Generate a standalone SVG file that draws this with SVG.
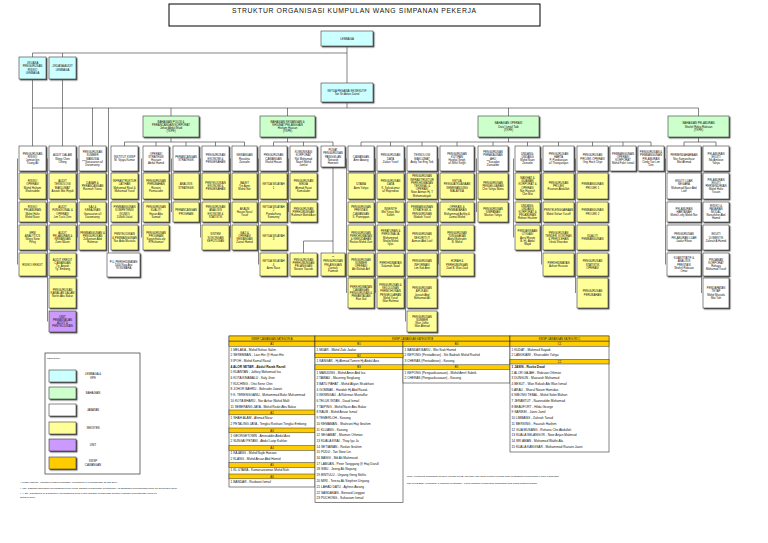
<svg xmlns="http://www.w3.org/2000/svg" width="768" height="543" viewBox="0 0 768 543">
<defs>
<filter id="sh" x="-20%" y="-20%" width="140%" height="140%"><feDropShadow dx="1.2" dy="1.2" stdDeviation="0.15" flood-color="#555" flood-opacity="1"/></filter>
</defs>
<style>
text{font-family:"Liberation Sans",Arial,Helvetica,sans-serif;fill:#111}
.t{font-size:2.8px;text-anchor:middle}
.s{font-size:3.2px}
.h{font-size:2.7px;text-anchor:middle}
.f{font-size:2.5px}
.n rect{stroke:#3a3a3a;stroke-width:0.6;filter:url(#sh)}
.w{fill:#fff}.c{fill:#ccffff}.g{fill:#ccffcc}.y{fill:#ffff99}.p{fill:#cc99ff}.o{fill:#ffcc00}
.cn path{fill:none;stroke:#333;stroke-width:0.6}
.tb{fill:#fff;stroke:#333;stroke-width:0.6}
.oh{fill:#ffcc00;stroke:#333;stroke-width:0.5}
</style>
<rect width="768" height="543" fill="#fff"/>

<g id="title">
<rect x="169" y="4" width="371" height="22" fill="#fff" stroke="#000" stroke-width="1"/>
<text x="354" y="13.3" style="font-size:6.8px;text-anchor:middle" textLength="244" lengthAdjust="spacing">STRUKTUR ORGANISASI KUMPULAN WANG SIMPANAN PEKERJA</text>
</g>

<g id="connectors" class="cn">
<path d="M347 46V83M32.5 53H347M32.5 53V57M62.5 53V57M32.5 79V146M62.5 79V146M347 102V108M32.5 108H698.5M92.5 108V146M108.5 108V253M171 108V116M287.5 108V116M508.5 108V116M698.5 108V116"/>
<path d="M171 137V142M124.5 142H244.5M124.5 142V146M156 142V146M186 142V146M215.5 142V146M244.5 142V146"/>
<path d="M287.5 137V142M273.5 142H333M273.5 142V146M303.5 142V146M333 142V146M333 167V253M303.5 241H333M303.5 241V253"/>
<path d="M508.5 137V142M361 142H651M361 142V146M390.5 142V146M422 142V146M457 142V146M493 142V146M527.5 142V146M558.5 142V146M592.5 142V146M623 142V146M651 142V146"/>
<path d="M698.5 137V142M684 142H716M684 142V146M716 142V146"/>
<path d="M17.5 158.5V264.5M47.5 158.5V321.5M77.5 158.5V237.5M141.5 158.5V237.5M171.5 158.5V212M200.5 158.5V237.5M230.5 158.5V237.5M258.5 158.5V264.5M288.5 158.5V212M346.5 158.5V293M375.5 158.5V293M405.5 158.5V321.5M438.5 158.5V264.5M476.5 158.5V212M513.5 158.5V237.5M541.5 158.5V264.5M575.5 158.5V293M665.5 158.5V264.5M701.5 158.5V293"/>
</g>

<g id="lembaga" class="n"><rect class="c" x="321" y="31" width="52" height="15"/><text class="t" y="39.5"><tspan x="347">LEMBAGA</tspan></text></g>
<g id="kpe" class="n"><rect class="c" x="321" y="83" width="52" height="19"/><text class="t" y="91.9"><tspan x="347">KETUA PEGAWAI EKSEKUTIF</tspan><tspan x="347" dy="3.2">Tan Sri Azlan Zainol</tspan></text></g>
<g id="jk-risiko" class="n"><rect class="c" x="19" y="57" width="27" height="22"/><text class="t" y="64.2"><tspan x="32.5">J/KUASA</tspan><tspan x="32.5" dy="3.2">PENGURUSAN</tspan><tspan x="32.5" dy="3.2">RISIKO</tspan><tspan x="32.5" dy="3.2">LEMBAGA</tspan></text></g>
<g id="jk-audit" class="n"><rect class="c" x="49" y="57" width="27" height="22"/><text class="t" y="67.4"><tspan x="62.5">J/KUASA AUDIT</tspan><tspan x="62.5" dy="3.2">LEMBAGA</tspan></text></g>

<g id="bhg-polisi" class="n"><rect class="g" x="143" y="116" width="56" height="21"/><text class="t" y="122.7"><tspan x="171">BAHAGIAN POLISI &amp;</tspan><tspan x="171" dy="3.2">PERANCANGAN KORPORAT</tspan><tspan x="171" dy="3.2">Johari Abdul Muid</tspan><tspan x="171" dy="3.2">(TKPE)</tspan></text></g>
<g id="bhg-kewangan" class="n"><rect class="g" x="260" y="116" width="55" height="21"/><text class="t" y="122.7"><tspan x="287.5">BAHAGIAN KEWANGAN &amp;</tspan><tspan x="287.5" dy="3.2">KHIDMAT PELANGGAN</tspan><tspan x="287.5" dy="3.2">Hisham Hassan</tspan><tspan x="287.5" dy="3.2">(TKPE)</tspan></text></g>
<g id="bhg-operasi" class="n"><rect class="g" x="478" y="116" width="61" height="21"/><text class="t" y="124.3"><tspan x="508.5">BAHAGIAN OPERASI</tspan><tspan x="508.5" dy="3.2">Dato' Ismail Taib</tspan><tspan x="508.5" dy="3.2">(TKPE)</tspan></text></g>
<g id="bhg-pelaburan" class="n"><rect class="g" x="668" y="116" width="61" height="21"/><text class="t" y="124.3"><tspan x="698.5">BAHAGIAN PELABURAN</tspan><tspan x="698.5" dy="3.2">Shahril Ridza Ridzuan</tspan><tspan x="698.5" dy="3.2">(TKPE)</tspan></text></g>

<g id="d-risiko" class="n"><rect class="w" x="19" y="146" width="27" height="25"/><text class="t" y="154.7"><tspan x="32.5">PENGURUSAN</tspan><tspan x="32.5" dy="3.2">RISIKO</tspan><tspan x="32.5" dy="3.2">Jamian bin</tspan><tspan x="32.5" dy="3.2">Tuang Ali</tspan></text></g>
<g id="d-audit" class="n"><rect class="w" x="49" y="146" width="27" height="25"/><text class="t" y="156.3"><tspan x="62.5">AUDIT DALAM</tspan><tspan x="62.5" dy="3.2">Wong Chee</tspan><tspan x="62.5" dy="3.2">Chong</tspan></text></g>
<g id="d-sdm" class="n"><rect class="w" x="79" y="146" width="27" height="25"/><text class="t" y="153.1"><tspan x="92.5">PENGURUSAN</tspan><tspan x="92.5" dy="3.2">SUMBER</tspan><tspan x="92.5" dy="3.2">MANUSIA</tspan><tspan x="92.5" dy="3.2">***Ganasaran a/l</tspan><tspan x="92.5" dy="3.2">Daramaney</tspan></text></g>
<g id="d-institut" class="n"><rect class="w" x="111" y="146" width="27" height="25"/><text class="t" y="157.9"><tspan x="124.5">INSTITUT KWSP</tspan><tspan x="124.5" dy="3.2">M. Vijaya Kumar</tspan></text></g>
<g id="d-opstrat" class="n"><rect class="w" x="143" y="146" width="26" height="25"/><text class="t" y="154.7"><tspan x="156">OPERASI</tspan><tspan x="156" dy="3.2">STRATEGIK</tspan><tspan x="156" dy="3.2">Hussain</tspan><tspan x="156" dy="3.2">Abdul Hamid</tspan></text></g>
<g id="d-perstrat" class="n"><rect class="w" x="173" y="146" width="26" height="25"/><text class="t" y="157.9"><tspan x="186">PERANCANGAN</tspan><tspan x="186" dy="3.2">STRATEGIK</tspan></text></g>
<g id="d-ekonomi" class="n"><rect class="w" x="202" y="146" width="27" height="25"/><text class="t" y="156.3"><tspan x="215.5">PENGURUSAN</tspan><tspan x="215.5" dy="3.2">EKONOMI &amp;</tspan><tspan x="215.5" dy="3.2">PENGESAHAN</tspan></text></g>
<g id="d-kewangan" class="n"><rect class="w" x="232" y="146" width="25" height="25"/><text class="t" y="156.3"><tspan x="244.5">KEWANGAN</tspan><tspan x="244.5" dy="3.2">Rosalina</tspan><tspan x="244.5" dy="3.2">Zainudin</tspan></text></g>
<g id="d-cawangan" class="n"><rect class="w" x="260" y="146" width="27" height="25"/><text class="t" y="156.3"><tspan x="273.5">PENGURUSAN</tspan><tspan x="273.5" dy="3.2">CAWANGAN</tspan><tspan x="273.5" dy="3.2">Khalid Hasan</tspan></text></g>
<g id="d-komunikasi" class="n"><rect class="w" x="290" y="146" width="27" height="25"/><text class="t" y="153.1"><tspan x="303.5">KOMUNIKASI</tspan><tspan x="303.5" dy="3.2">KORPORAT</tspan><tspan x="303.5" dy="3.2">Nik Mohamad</tspan><tspan x="303.5" dy="3.2">Nazril Mohd</tspan><tspan x="303.5" dy="3.2">Jamlur</tspan></text></g>
<g id="d-panggilan" class="n"><rect class="w" x="321" y="146" width="24" height="21"/><text class="t" y="151.1"><tspan x="333">PUSAT</tspan><tspan x="333" dy="3.2">PENGURUSAN</tspan><tspan x="333" dy="3.2">PANGGILAN</tspan><tspan x="333" dy="3.2">Norazah</tspan><tspan x="333" dy="3.2">Hamzah</tspan></text></g>
<g id="d-cawangan-op" class="n"><rect class="w" x="348" y="146" width="26" height="25"/><text class="t" y="157.9"><tspan x="361">CAWANGAN</tspan><tspan x="361" dy="3.2">Amir Awang</tspan></text></g>
<g id="d-data" class="n"><rect class="w" x="377" y="146" width="27" height="25"/><text class="t" y="156.3"><tspan x="390.5">PENGURUSAN</tspan><tspan x="390.5" dy="3.2">DATA</tspan><tspan x="390.5" dy="3.2">Zailan Yusof</tspan></text></g>
<g id="d-tm" class="n"><rect class="w" x="407" y="146" width="30" height="25"/><text class="t" y="156.3"><tspan x="422">TEKNOLOGI</tspan><tspan x="422" dy="3.2">MAKLUMAT</tspan><tspan x="422" dy="3.2">Andy Tan Eng Teik</tspan></text></g>
<g id="d-kutipan" class="n"><rect class="w" x="440" y="146" width="34" height="25"/><text class="t" y="154.7"><tspan x="457">PENGURUSAN</tspan><tspan x="457" dy="3.2">KUTIPAN</tspan><tspan x="457" dy="3.2">Hardial Singh</tspan><tspan x="457" dy="3.2">a/l Mihil Singh</tspan></text></g>
<g id="d-akaun" class="n"><rect class="w" x="478" y="146" width="30" height="25"/><text class="t" y="153.1"><tspan x="493">PENGURUSAN</tspan><tspan x="493" dy="3.2">PERAKAUNAN</tspan><tspan x="493" dy="3.2">AHLI</tspan><tspan x="493" dy="3.2">**Sasadan</tspan><tspan x="493" dy="3.2">Zainuddin</tspan></text></g>
<g id="d-undang" class="n"><rect class="w" x="515" y="146" width="25" height="25"/><text class="t" y="154.7"><tspan x="527.5">UNDANG-</tspan><tspan x="527.5" dy="3.2">UNDANG</tspan><tspan x="527.5" dy="3.2">Mohd Nazri</tspan><tspan x="527.5" dy="3.2">Zainudin</tspan></text></g>
<g id="d-harta" class="n"><rect class="w" x="543" y="146" width="31" height="25"/><text class="t" y="154.7"><tspan x="558.5">PENGURUSAN</tspan><tspan x="558.5" dy="3.2">HARTA</tspan><tspan x="558.5" dy="3.2">P. Pandiarajan</tspan><tspan x="558.5" dy="3.2">a/l Thangarajan</tspan></text></g>
<g id="d-projek" class="n"><rect class="w" x="577" y="146" width="31" height="25"/><text class="t" y="156.3"><tspan x="592.5">PENGURUSAN</tspan><tspan x="592.5" dy="3.2">PROJEK OPERASI</tspan><tspan x="592.5" dy="3.2">Ong Hock Chye</tspan></text></g>
<g id="d-pembangunan" class="n"><rect class="w" x="610" y="146" width="26" height="25"/><text class="t" y="154.7"><tspan x="623">PEMBANGUNAN</tspan><tspan x="623" dy="3.2">OPERASI</tspan><tspan x="623" dy="3.2">KORPORAT</tspan><tspan x="623" dy="3.2">Mohd Fakri Ismail</tspan></text></g>
<g id="d-pelaburan-op" class="n"><rect class="w" x="638" y="146" width="26" height="25"/><text class="t" y="153.1"><tspan x="651">PENGURUSAN &amp;</tspan><tspan x="651" dy="3.2">PEMBANGUNAN</tspan><tspan x="651" dy="3.2">PELABURAN</tspan><tspan x="651" dy="3.2">Cindy Tan Lim</tspan><tspan x="651" dy="3.2">Dee</tspan></text></g>
<g id="d-perbendaharaan" class="n"><rect class="w" x="667" y="146" width="34" height="25"/><text class="t" y="156.3"><tspan x="684">PERBENDAHARAAN</tspan><tspan x="684" dy="3.2">Nor Kamarulnuar</tspan><tspan x="684" dy="3.2">Mat Ahmad</tspan></text></g>
<g id="d-ekuiti" class="n"><rect class="w" x="703" y="146" width="26" height="25"/><text class="t" y="154.7"><tspan x="716">PELABURAN</tspan><tspan x="716" dy="3.2">EKUITI</tspan><tspan x="716" dy="3.2">Nik Amlizan</tspan><tspan x="716" dy="3.2">Yahya</tspan></text></g>

<g id="s-risiko-op" class="n"><rect class="y" x="19" y="173" width="27" height="26"/><text class="t" y="182.2"><tspan x="32.5">RISIKO</tspan><tspan x="32.5" dy="3.2">OPERASI</tspan><tspan x="32.5" dy="3.2">Mohd Hisham</tspan><tspan x="32.5" dy="3.2">Shahruddin</tspan></text></g>
<g id="s-audit-tm" class="n"><rect class="y" x="49" y="173" width="27" height="26"/><text class="t" y="182.2"><tspan x="62.5">AUDIT</tspan><tspan x="62.5" dy="3.2">TEKNOLOGI</tspan><tspan x="62.5" dy="3.2">MAKLUMAT</tspan><tspan x="62.5" dy="3.2">Azizah Mat Rejab</tspan></text></g>
<g id="s-dasar" class="n"><rect class="y" x="79" y="173" width="27" height="26"/><text class="t" y="183.8"><tspan x="92.5">DASAR &amp;</tspan><tspan x="92.5" dy="3.2">PERANCANGAN</tspan><tspan x="92.5" dy="3.2">Rosmah Yunus</tspan></text></g>
<g id="s-infra" class="n"><rect class="y" x="111" y="173" width="27" height="26"/><text class="t" y="182.2"><tspan x="124.5">INFRASTRUKTUR</tspan><tspan x="124.5" dy="3.2">LATIHAN</tspan><tspan x="124.5" dy="3.2">Mohamad Rizal &amp;</tspan><tspan x="124.5" dy="3.2">Mohamad Yusof</tspan></text></g>
<g id="s-perubahan" class="n"><rect class="y" x="143" y="173" width="26" height="26"/><text class="t" y="182.2"><tspan x="156">PENGURUSAN</tspan><tspan x="156" dy="3.2">PERUBAHAN</tspan><tspan x="156" dy="3.2">Rozaini</tspan><tspan x="156" dy="3.2">Pamasudin</tspan></text></g>
<g id="s-analisis" class="n"><rect class="y" x="173" y="173" width="26" height="26"/><text class="t" y="185.4"><tspan x="186">ANALISIS</tspan><tspan x="186" dy="3.2">STRATEGIK</tspan></text></g>
<g id="s-penyelidikan" class="n"><rect class="y" x="202" y="173" width="27" height="26"/><text class="t" y="183.8"><tspan x="215.5">PENYELIDIKAN</tspan><tspan x="215.5" dy="3.2">EKONOMI &amp;</tspan><tspan x="215.5" dy="3.2">PENGESAHAN</tspan></text></g>
<g id="s-bajet" class="n"><rect class="y" x="232" y="173" width="25" height="26"/><text class="t" y="183.8"><tspan x="244.5">BAJET</tspan><tspan x="244.5" dy="3.2">Yin Azmi</tspan><tspan x="244.5" dy="3.2">Mohd Nor</tspan></text></g>
<g id="s-wil1" class="n"><rect class="y" x="260" y="173" width="27" height="26"/><text class="t" y="185.4"><tspan x="273.5">KETUA WILAYAH</tspan><tspan x="273.5" dy="3.2">1</tspan></text></g>
<g id="s-media" class="n"><rect class="y" x="290" y="173" width="27" height="26"/><text class="t" y="182.2"><tspan x="303.5">PENGURUSAN</tspan><tspan x="303.5" dy="3.2">MEDIA</tspan><tspan x="303.5" dy="3.2">Ahmad Fauzi</tspan><tspan x="303.5" dy="3.2">Kamaludin</tspan></text></g>
<g id="s-utama" class="n"><rect class="y" x="348" y="173" width="26" height="26"/><text class="t" y="185.4"><tspan x="361">UTAMA</tspan><tspan x="361" dy="3.2">Azmi Yahya</tspan></text></g>
<g id="s-data" class="n"><rect class="y" x="377" y="173" width="27" height="26"/><text class="t" y="182.2"><tspan x="390.5">PENGURUSAN</tspan><tspan x="390.5" dy="3.2">DATA</tspan><tspan x="390.5" dy="3.2">K. Selvakumar</tspan><tspan x="390.5" dy="3.2">a/l Rajendran</tspan></text></g>
<g id="s-infra-it" class="n"><rect class="y" x="407" y="173" width="30" height="26"/><text class="t" y="177.4"><tspan x="422">PENGURUSAN</tspan><tspan x="422" dy="3.2">INFRASTRUKTUR</tspan><tspan x="422" dy="3.2">PERKHIDMATAN</tspan><tspan x="422" dy="3.2">TEKNIKAL &amp;</tspan><tspan x="422" dy="3.2">OPERASI</tspan><tspan x="422" dy="3.2">Noor Azman Hj. T</tspan><tspan x="422" dy="3.2">Mohamadsyah</tspan></text></g>
<g id="s-penguatkuasaan" class="n"><rect class="y" x="440" y="173" width="34" height="26"/><text class="t" y="182.2"><tspan x="457">KETUA</tspan><tspan x="457" dy="3.2">PENGUATKUASAAN</tspan><tspan x="457" dy="3.2">SEMENANJUNG</tspan><tspan x="457" dy="3.2">MALAYSIA</tspan></text></g>
<g id="s-pengeluaran" class="n"><rect class="y" x="478" y="173" width="30" height="26"/><text class="t" y="183.8"><tspan x="493">PENGURUSAN</tspan><tspan x="493" dy="3.2">PENGELUARAN</tspan><tspan x="493" dy="3.2">Che Yahya Mona</tspan></text></g>
<g id="s-nasihat" class="n"><rect class="y" x="515" y="173" width="25" height="26"/><text class="t" y="179"><tspan x="527.5">NASIHAT &amp;</tspan><tspan x="527.5" dy="3.2">GUAMAN</tspan><tspan x="527.5" dy="3.2">KORPORAT &amp;</tspan><tspan x="527.5" dy="3.2">OPERASI</tspan><tspan x="527.5" dy="3.2">Nor Hasnah</tspan><tspan x="527.5" dy="3.2">Che Mat</tspan></text></g>
<g id="s-projek" class="n"><rect class="y" x="543" y="173" width="31" height="26"/><text class="t" y="183.8"><tspan x="558.5">PENGURUSAN</tspan><tspan x="558.5" dy="3.2">PROJEK</tspan><tspan x="558.5" dy="3.2">Rusnani Abdullah</tspan></text></g>
<g id="s-projek1" class="n"><rect class="y" x="577" y="173" width="31" height="26"/><text class="t" y="185.4"><tspan x="592.5">PEMBANGUNAN</tspan><tspan x="592.5" dy="3.2">PROJEK 1</tspan></text></g>
<g id="j-ekuiti-luar" class="n"><rect class="w" x="667" y="173" width="34" height="26"/><text class="t" y="182.2"><tspan x="684">EKUITI LUAR</tspan><tspan x="684" dy="3.2">NEGARA</tspan><tspan x="684" dy="3.2">Mohamad Nasir Abd</tspan><tspan x="684" dy="3.2">Latif</tspan></text></g>
<g id="j-ekuiti-persendirian" class="n"><rect class="w" x="703" y="173" width="26" height="26"/><text class="t" y="180.6"><tspan x="716">PELABURAN</tspan><tspan x="716" dy="3.2">EKUITI</tspan><tspan x="716" dy="3.2">PERSENDIRIAN</tspan><tspan x="716" dy="3.2">Mohd Hafiz</tspan><tspan x="716" dy="3.2">Yusain</tspan></text></g>

<g id="s-risiko-pel" class="n"><rect class="y" x="19" y="202" width="27" height="20"/><text class="t" y="208.2"><tspan x="32.5">RISIKO</tspan><tspan x="32.5" dy="3.2">PELABURAN</tspan><tspan x="32.5" dy="3.2">Mohd Hafiz</tspan><tspan x="32.5" dy="3.2">Mohd Nasir</tspan></text></g>
<g id="s-audit-fo" class="n"><rect class="y" x="49" y="202" width="27" height="20"/><text class="t" y="208.2"><tspan x="62.5">AUDIT</tspan><tspan x="62.5" dy="3.2">FUNGSIONAL &amp;</tspan><tspan x="62.5" dy="3.2">OPERASI</tspan><tspan x="62.5" dy="3.2">Lim Tuck Chin</tspan></text></g>
<g id="s-saj" class="n"><rect class="y" x="79" y="202" width="27" height="20"/><text class="t" y="208.2"><tspan x="92.5">SAJ &amp;</tspan><tspan x="92.5" dy="3.2">KEBAJIKAN</tspan><tspan x="92.5" dy="3.2">Ganasaran a/l</tspan><tspan x="92.5" dy="3.2">Daramaney</tspan></text></g>
<g id="s-kompetensi" class="n"><rect class="y" x="111" y="202" width="27" height="20"/><text class="t" y="208.2"><tspan x="124.5">PEMBANGUNAN</tspan><tspan x="124.5" dy="3.2">KOMPETENSI</tspan><tspan x="124.5" dy="3.2">(KUMO)</tspan><tspan x="124.5" dy="3.2">Zulkifli Daud</tspan></text></g>
<g id="s-kualiti" class="n"><rect class="y" x="143" y="202" width="26" height="20"/><text class="t" y="208.2"><tspan x="156">PENGURUSAN</tspan><tspan x="156" dy="3.2">KUALITI</tspan><tspan x="156" dy="3.2">Hasan Abu</tspan><tspan x="156" dy="3.2">Samad</tspan></text></g>
<g id="s-program-pr" class="n"><rect class="y" x="173" y="202" width="26" height="20"/><text class="t" y="211.4"><tspan x="186">PERANCANGAN</tspan><tspan x="186" dy="3.2">PROGRAM</tspan></text></g>
<g id="s-statistik" class="n"><rect class="y" x="202" y="202" width="27" height="20"/><text class="t" y="208.2"><tspan x="215.5">PENGURUSAN</tspan><tspan x="215.5" dy="3.2">ANALISIS</tspan><tspan x="215.5" dy="3.2">EKONOMI &amp;</tspan><tspan x="215.5" dy="3.2">STATISTIK</tspan></text></g>
<g id="s-akaun" class="n"><rect class="y" x="232" y="202" width="25" height="20"/><text class="t" y="209.8"><tspan x="244.5">AKAUN</tspan><tspan x="244.5" dy="3.2">Hasan Nurul</tspan><tspan x="244.5" dy="3.2">Yusof</tspan></text></g>
<g id="s-wil2" class="n"><rect class="y" x="260" y="202" width="27" height="20"/><text class="t" y="208.2"><tspan x="273.5">KETUA WILAYAH</tspan><tspan x="273.5" dy="3.2">2</tspan><tspan x="273.5" dy="3.2">Pandathuny</tspan><tspan x="273.5" dy="3.2">Somaney</tspan></text></g>
<g id="s-perhubungan" class="n"><rect class="y" x="290" y="202" width="27" height="20"/><text class="t" y="209.8"><tspan x="303.5">PENGURUSAN</tspan><tspan x="303.5" dy="3.2">PERHUBUNGAN</tspan><tspan x="303.5" dy="3.2">Rahmah Mohd Aziz</tspan></text></g>
<g id="s-prestasi" class="n"><rect class="y" x="348" y="202" width="26" height="20"/><text class="t" y="208.2"><tspan x="361">PENGURUSAN</tspan><tspan x="361" dy="3.2">PRESTASI</tspan><tspan x="361" dy="3.2">CAWANGAN</tspan><tspan x="361" dy="3.2">S. Pannippan</tspan></text></g>
<g id="s-insentif" class="n"><rect class="y" x="377" y="202" width="27" height="20"/><text class="t" y="209.8"><tspan x="390.5">INSENTIF</tspan><tspan x="390.5" dy="3.2">Md Yunus Mat</tspan><tspan x="390.5" dy="3.2">Salleh</tspan></text></g>
<g id="s-strategik-it" class="n"><rect class="y" x="407" y="202" width="30" height="20"/><text class="t" y="208.2"><tspan x="422">PEMBANGUNAN</tspan><tspan x="422" dy="3.2">STRATEGIK &amp;</tspan><tspan x="422" dy="3.2">PENGURUSAN</tspan><tspan x="422" dy="3.2">Wadiah Yusof</tspan></text></g>
<g id="s-pembayaran" class="n"><rect class="y" x="440" y="202" width="34" height="20"/><text class="t" y="208.2"><tspan x="457">OPERASI &amp;</tspan><tspan x="457" dy="3.2">PEMBAYARAN</tspan><tspan x="457" dy="3.2">Mohammad Ashfiq &amp;</tspan><tspan x="457" dy="3.2">Zaimal Mohd</tspan></text></g>
<g id="s-simpanan" class="n"><rect class="y" x="478" y="202" width="30" height="20"/><text class="t" y="209.8"><tspan x="493">PENGURUSAN</tspan><tspan x="493" dy="3.2">SIMPANAN</tspan><tspan x="493" dy="3.2">Mazlan Yahya</tspan></text></g>
<g id="s-uu-korporat" class="n"><rect class="y" x="515" y="202" width="25" height="20"/><text class="t" y="206.6"><tspan x="527.5">UNDANG-</tspan><tspan x="527.5" dy="3.2">UNDANG</tspan><tspan x="527.5" dy="3.2">KORPORAT &amp;</tspan><tspan x="527.5" dy="3.2">PELABURAN</tspan><tspan x="527.5" dy="3.2">Rohani Hashim</tspan></text></g>
<g id="s-penyelenggaraan" class="n"><rect class="y" x="543" y="202" width="31" height="20"/><text class="t" y="211.4"><tspan x="558.5">PENYELENGGARAAN</tspan><tspan x="558.5" dy="3.2">Mohd Sufian Yusoff</tspan></text></g>
<g id="s-projek2" class="n"><rect class="y" x="577" y="202" width="31" height="20"/><text class="t" y="211.4"><tspan x="592.5">PEMBANGUNAN</tspan><tspan x="592.5" dy="3.2">PROJEK 2</tspan></text></g>
<g id="j-hartanah" class="n"><rect class="w" x="667" y="202" width="34" height="20"/><text class="t" y="209.8"><tspan x="684">PELABURAN</tspan><tspan x="684" dy="3.2">HARTANAH</tspan><tspan x="684" dy="3.2">Mohd Lutfy Mohd Nor</tspan></text></g>
<g id="j-risiko-pasaran" class="n"><rect class="w" x="703" y="202" width="26" height="20"/><text class="t" y="206.6"><tspan x="716">RISIKO &amp;</tspan><tspan x="716" dy="3.2">PASARAN</tspan><tspan x="716" dy="3.2">MODAL</tspan><tspan x="716" dy="3.2">Norashikin Abd</tspan><tspan x="716" dy="3.2">Hamid</tspan></text></g>

<g id="s-erm" class="n"><rect class="y" x="19" y="225" width="27" height="25"/><text class="t" y="233.7"><tspan x="32.5">ERM</tspan><tspan x="32.5" dy="3.2">ANALYTICS</tspan><tspan x="32.5" dy="3.2">Wong Siew</tspan><tspan x="32.5" dy="3.2">Peng</tspan></text></g>
<g id="s-audit-pk" class="n"><rect class="y" x="49" y="225" width="27" height="25"/><text class="t" y="233.7"><tspan x="62.5">AUDIT</tspan><tspan x="62.5" dy="3.2">PELABURAN &amp;</tspan><tspan x="62.5" dy="3.2">KEWANGAN</tspan><tspan x="62.5" dy="3.2">Zami Mazni</tspan></text></g>
<g id="s-pembangunan-sdm" class="n"><rect class="y" x="79" y="225" width="27" height="25"/><text class="t" y="233.7"><tspan x="92.5">PEMBANGUNAN &amp;</tspan><tspan x="92.5" dy="3.2">PENGURUSAN</tspan><tspan x="92.5" dy="3.2">Zulkarnain Abd</tspan><tspan x="92.5" dy="3.2">Rahman</tspan></text></g>
<g id="s-penyelidikan-ik" class="n"><rect class="y" x="111" y="225" width="27" height="25"/><text class="t" y="235.3"><tspan x="124.5">PENYELIDIKAN</tspan><tspan x="124.5" dy="3.2">&amp; PEMBANGUNAN</tspan><tspan x="124.5" dy="3.2">Nur Aida Mustafa</tspan></text></g>
<g id="s-program" class="n"><rect class="y" x="143" y="225" width="26" height="25"/><text class="t" y="233.7"><tspan x="156">PENGURUSAN</tspan><tspan x="156" dy="3.2">PROGRAM</tspan><tspan x="156" dy="3.2">Sagunthala a/p</tspan><tspan x="156" dy="3.2">R Ruhaman</tspan></text></g>
<g id="s-sistem" class="n"><rect class="y" x="202" y="225" width="27" height="25"/><text class="t" y="235.3"><tspan x="215.5">SISTEM</tspan><tspan x="215.5" dy="3.2">SOKONGAN</tspan><tspan x="215.5" dy="3.2">KEPUTUSAN</tspan></text></g>
<g id="s-gaji" class="n"><rect class="y" x="232" y="225" width="25" height="25"/><text class="t" y="233.7"><tspan x="244.5">GAJI &amp;</tspan><tspan x="244.5" dy="3.2">OPERASI</tspan><tspan x="244.5" dy="3.2">KEWANGAN</tspan><tspan x="244.5" dy="3.2">Zainal Hamid</tspan></text></g>
<g id="s-wil3" class="n"><rect class="y" x="260" y="225" width="27" height="25"/><text class="t" y="236.9"><tspan x="273.5">KETUA WILAYAH</tspan><tspan x="273.5" dy="3.2">3</tspan></text></g>
<g id="s-kemudahan" class="n"><rect class="y" x="348" y="225" width="26" height="25"/><text class="t" y="233.7"><tspan x="361">PENGURUSAN</tspan><tspan x="361" dy="3.2">PERKHIDMATAN</tspan><tspan x="361" dy="3.2">&amp; KEMUDAHAN</tspan><tspan x="361" dy="3.2">Roslan Mohd Zain</tspan></text></g>
<g id="s-peraturan" class="n"><rect class="y" x="377" y="225" width="27" height="25"/><text class="t" y="232.1"><tspan x="390.5">PERATURAN &amp;</tspan><tspan x="390.5" dy="3.2">PERSONALIA</tspan><tspan x="390.5" dy="3.2">Mohammad</tspan><tspan x="390.5" dy="3.2">Shafiq Mohd</tspan><tspan x="390.5" dy="3.2">Ilyas</tspan></text></g>
<g id="s-sekuriti" class="n"><rect class="y" x="407" y="225" width="30" height="25"/><text class="t" y="235.3"><tspan x="422">PENGURUSAN</tspan><tspan x="422" dy="3.2">SEKURITI IT</tspan><tspan x="422" dy="3.2">Azman Abd Latif</tspan></text></g>
<g id="s-tunggakan" class="n"><rect class="y" x="440" y="225" width="34" height="25"/><text class="t" y="233.7"><tspan x="457">PENGURUSAN</tspan><tspan x="457" dy="3.2">TUNGGAKAN</tspan><tspan x="457" dy="3.2">Abdul Bahrudin</tspan><tspan x="457" dy="3.2">B. Mohd</tspan></text></g>
<g id="s-litigasi" class="n"><rect class="y" x="515" y="225" width="25" height="25"/><text class="t" y="232.1"><tspan x="527.5">PENDAKWAAN</tspan><tspan x="527.5" dy="3.2">LITIGASI</tspan><tspan x="527.5" dy="3.2">Azrul Rizam</tspan><tspan x="527.5" dy="3.2">B. Hj. Abdul</tspan><tspan x="527.5" dy="3.2">Majid</tspan></text></g>
<g id="s-perolehan" class="n"><rect class="y" x="543" y="225" width="31" height="25"/><text class="t" y="233.7"><tspan x="558.5">PENGURUSAN</tspan><tspan x="558.5" dy="3.2">TENDER, KONTRAK</tspan><tspan x="558.5" dy="3.2">&amp; PEROLEHAN</tspan><tspan x="558.5" dy="3.2">Ishak Sharidan</tspan></text></g>
<g id="s-kualiti-pb" class="n"><rect class="y" x="577" y="225" width="31" height="25"/><text class="t" y="236.9"><tspan x="592.5">KUALITI</tspan><tspan x="592.5" dy="3.2">PEMBANGUNAN</tspan></text></g>
<g id="j-pelaburan-luar" class="n"><rect class="w" x="667" y="225" width="34" height="25"/><text class="t" y="235.3"><tspan x="684">PENGURUSAN</tspan><tspan x="684" dy="3.2">PELABURAN LUAR</tspan><tspan x="684" dy="3.2">Jaafar Rihan</tspan></text></g>
<g id="j-ekuiti-domestik" class="n"><rect class="w" x="703" y="225" width="26" height="25"/><text class="t" y="235.3"><tspan x="716">EKUITI</tspan><tspan x="716" dy="3.2">DOMESTIK</tspan><tspan x="716" dy="3.2">Zalinah A Hamid</tspan></text></g>

<g id="s-kredit" class="n"><rect class="y" x="19" y="253" width="27" height="23"/><text class="t" y="265.5"><tspan x="32.5">RISIKO KREDIT</tspan></text></g>
<g id="s-audit-kc" class="n"><rect class="y" x="49" y="253" width="27" height="23"/><text class="t" y="260.7"><tspan x="62.5">AUDIT KREDIT</tspan><tspan x="62.5" dy="3.2">CAWANGAN</tspan><tspan x="62.5" dy="3.2">Tg. Azizah</tspan><tspan x="62.5" dy="3.2">Tg. Embong</tspan></text></g>
<g id="j-pll" class="n"><rect class="w" x="107" y="253" width="33" height="24"/><text class="t" y="262.8"><tspan x="123.5">PLL PERKHIDMATAN</tspan><tspan x="123.5" dy="3.2">1000 Nag Aria</tspan><tspan x="123.5" dy="3.2">TKSSIBARA</tspan></text></g>
<g id="s-wil4" class="n"><rect class="y" x="260" y="253" width="27" height="23"/><text class="t" y="262.3"><tspan x="273.5">KETUA WILAYAH</tspan><tspan x="273.5" dy="3.2">4</tspan><tspan x="273.5" dy="3.2">Azmi Nasir</tspan></text></g>
<g id="s-perhubungan-pl" class="n"><rect class="y" x="290" y="253" width="27" height="23"/><text class="t" y="260.7"><tspan x="303.5">PENGURUSAN</tspan><tspan x="303.5" dy="3.2">PERHUBUNGAN</tspan><tspan x="303.5" dy="3.2">PELANGGAN</tspan><tspan x="303.5" dy="3.2">Noraini Yaacob</tspan></text></g>
<g id="s-pelanggan" class="n"><rect class="y" x="321" y="253" width="24" height="23"/><text class="t" y="259.1"><tspan x="333">**</tspan><tspan x="333" dy="3.2">PENGURUSAN</tspan><tspan x="333" dy="3.2">PELANGGAN</tspan><tspan x="333" dy="3.2">Zarinah</tspan><tspan x="333" dy="3.2">Fatimah</tspan></text></g>
<g id="s-sumber-op" class="n"><rect class="y" x="348" y="253" width="26" height="23"/><text class="t" y="260.7"><tspan x="361">PENGURUSAN</tspan><tspan x="361" dy="3.2">SUMBER</tspan><tspan x="361" dy="3.2">OPERASI</tspan><tspan x="361" dy="3.2">Ab Wahab Arif</tspan></text></g>
<g id="s-perkhidmatan" class="n"><rect class="y" x="377" y="253" width="27" height="23"/><text class="t" y="263.9"><tspan x="390.5">PERKHIDMATAN</tspan><tspan x="390.5" dy="3.2">Salamah Saad</tspan></text></g>
<g id="s-informasi" class="n"><rect class="y" x="407" y="253" width="30" height="23"/><text class="t" y="262.3"><tspan x="422">PENGURUSAN</tspan><tspan x="422" dy="3.2">INFORMASI</tspan><tspan x="422" dy="3.2">Lim Kok Ann</tspan></text></g>
<g id="s-hijrah" class="n"><rect class="y" x="440" y="253" width="34" height="23"/><text class="t" y="262.3"><tspan x="457">HIJRAH &amp;</tspan><tspan x="457" dy="3.2">PERHUBUNGAN</tspan><tspan x="457" dy="3.2">Zaid B. Wan Zaid</tspan></text></g>
<g id="s-perkhidmatan-h" class="n"><rect class="y" x="543" y="253" width="31" height="23"/><text class="t" y="263.9"><tspan x="558.5">PERKHIDMATAN</tspan><tspan x="558.5" dy="3.2">Azhan Hussain</tspan></text></g>
<g id="s-statistik-op" class="n"><rect class="y" x="577" y="253" width="31" height="23"/><text class="t" y="262.3"><tspan x="592.5">PENGURUSAN</tspan><tspan x="592.5" dy="3.2">STATISTIK</tspan><tspan x="592.5" dy="3.2">OPERASI</tspan></text></g>
<g id="j-kuantitatif" class="n"><rect class="w" x="667" y="253" width="34" height="23"/><text class="t" y="259.1"><tspan x="684">KUANTITATIF &amp;</tspan><tspan x="684" dy="3.2">ANALISIS</tspan><tspan x="684" dy="3.2">PRESTASI</tspan><tspan x="684" dy="3.2">Shahril Ridzuan</tspan><tspan x="684" dy="3.2">Omar</tspan></text></g>
<g id="j-pinjaman" class="n"><rect class="w" x="703" y="253" width="26" height="23"/><text class="t" y="260.7"><tspan x="716">PINJAMAN</tspan><tspan x="716" dy="3.2">KORPORAT</tspan><tspan x="716" dy="3.2">Rohaya</tspan><tspan x="716" dy="3.2">Mohamad Yusof</tspan></text></g>

<g id="s-kawalan" class="n"><rect class="y" x="49" y="278" width="27" height="30"/><text class="t" y="290.8"><tspan x="62.5">PENGURUSAN</tspan><tspan x="62.5" dy="3.2">KAWALAN DALAM</tspan><tspan x="62.5" dy="3.2">Norlin Abu Bakar</tspan></text></g>
<g id="s-pemantauan" class="n"><rect class="y" x="348" y="278" width="26" height="30"/><text class="t" y="287.6"><tspan x="361">PERKHIDMATAN</tspan><tspan x="361" dy="3.2">CAWANGAN</tspan><tspan x="361" dy="3.2">PENGURUSAN &amp;</tspan><tspan x="361" dy="3.2">PEMANTAUAN</tspan><tspan x="361" dy="3.2">Rozi Ikal</tspan></text></g>
<g id="s-kelulusan" class="n"><rect class="y" x="377" y="278" width="27" height="30"/><text class="t" y="286"><tspan x="390.5">PENGURUSAN &amp;</tspan><tspan x="390.5" dy="3.2">KELULUSAN</tspan><tspan x="390.5" dy="3.2">PERMOHONAN</tspan><tspan x="390.5" dy="3.2">PENGELUARAN</tspan><tspan x="390.5" dy="3.2">Mohd Yusof</tspan><tspan x="390.5" dy="3.2">Wan Rahmat</tspan></text></g>
<g id="s-aplikasi" class="n"><rect class="y" x="407" y="278" width="30" height="30"/><text class="t" y="289.2"><tspan x="422">PENGURUSAN</tspan><tspan x="422" dy="3.2">APLIKASI</tspan><tspan x="422" dy="3.2">Jansah Abd</tspan><tspan x="422" dy="3.2">Mohamad Ali</tspan></text></g>
<g id="s-perubahan-op" class="n"><rect class="y" x="577" y="278" width="31" height="30"/><text class="t" y="292.4"><tspan x="592.5">PENGURUSAN</tspan><tspan x="592.5" dy="3.2">PERUBAHAN</tspan></text></g>
<g id="j-pendapatan" class="n"><rect class="w" x="703" y="278" width="26" height="30"/><text class="t" y="289.2"><tspan x="716">PENDAPATAN</tspan><tspan x="716" dy="3.2">TETAP</tspan><tspan x="716" dy="3.2">Mohd Mustafa</tspan><tspan x="716" dy="3.2">Mat Yah</tspan></text></g>

<g id="u-pemantauan" class="n"><rect class="p" x="49" y="311" width="27" height="21"/><text class="t" y="317.7"><tspan x="62.5">UNIT</tspan><tspan x="62.5" dy="3.2">PEMANTAUAN</tspan><tspan x="62.5" dy="3.2">AUDIT &amp;</tspan><tspan x="62.5" dy="3.2">PENYELIDIKAN</tspan></text></g>
<g id="s-sumber-it" class="n"><rect class="y" x="407" y="311" width="30" height="21"/><text class="t" y="317.7"><tspan x="422">PENGURUSAN</tspan><tspan x="422" dy="3.2">SUMBER</tspan><tspan x="422" dy="3.2">Wan Jaffar</tspan><tspan x="422" dy="3.2">Wan Ahmad</tspan></text></g>

<g id="legend">
<rect x="45" y="353" width="95" height="121" fill="#fff" stroke="#333" stroke-width="0.7"/>
<text class="f" x="47" y="358.5">PETUNJUK</text>
<g class="n">
<rect class="c" x="49" y="370" width="27" height="12"/>
<rect class="g" x="49" y="387" width="27" height="12"/>
<rect class="w" x="49" y="404" width="27" height="12"/>
<rect class="y" x="49" y="422" width="27" height="12"/>
<rect class="p" x="49" y="439" width="27" height="12"/>
<rect class="o" x="49" y="457" width="27" height="12"/>
</g>
<text class="t" x="93" y="375">LEMBAGA &amp;</text>
<text class="t" x="93" y="378.5">KPE</text>
<text class="t" x="93" y="394">BAHAGIAN</text>
<text class="t" x="93" y="411">JABATAN</text>
<text class="t" x="93" y="429">SEKSYEN</text>
<text class="t" x="93" y="446">UNIT</text>
<text class="t" x="93" y="462">KWSP</text>
<text class="t" x="93" y="465.5">CAWANGAN</text>
</g>

<g id="footnotes" class="f">
<text x="20" y="482.5">* Kuasa Wakilan : Jawatan Kuasa Perjawatan, Perlantikan &amp; Perkhidmatan 15 Dis 2009</text>
<text x="20" y="489">* * En. Sasadan Zainuddin menanggung kerja Ketua Jabatan Pengurusan Perakaunan Ahli Bahagian berkuatkuasa mulai 03 September 2010</text>
<text x="20" y="494">* * * En. Ganasaran a/l Daramaney menanggung kerja Ketua Jabatan Pengurusan Sumber Manusia berkuatkuasa mulai 13</text>
<text x="20" y="498">Oktober 2010</text>
</g>

<g id="kategori-a">
<rect class="tb" x="229" y="336" width="86" height="151"/>
<rect class="oh" x="229" y="336" width="86" height="5"/><text class="h" x="272" y="339.8">KWSP CAWANGAN KATEGORI A</text>
<rect class="oh" x="229" y="341.5" width="86" height="4.8"/><text class="h" x="272" y="345">A1</text>
<g class="s">
<text x="230.5" y="350.5">1  MELAKA - Mohd Nohari Salim</text>
<text x="230.5" y="356.2">2  SEREMBAN - Lian Hin @ Huan Hin</text>
<text x="230.5" y="361.9">3  IPOH - Mohd Kamal Rasul</text>
<text x="230.5" y="367.6" font-weight="bold">4  ALOR SETAR - Abdul Razak Razali</text>
<text x="230.5" y="373.3">5  KUANTAN - Jaffary Mohamad Isa</text>
<text x="230.5" y="379">6  KOTA KINABALU - Kaly Jiton</text>
<text x="230.5" y="384.7">7  KUCHING - Otto Sene Chin</text>
<text x="230.5" y="390.4">8  JOHOR BAHRU - Bahrudin Jawati</text>
<text x="230.5" y="396.1">9  K. TERENGGANU - Mohammad Bakri Muhammad</text>
<text x="230.5" y="401.8">10 KOTA BHARU - Nor Azhar Wahid Malli</text>
<text x="230.5" y="407.5">11 SEBERANG JAYA - Mohd Rodzi Abu Bakar</text>
</g>
<rect class="oh" x="229" y="410" width="86" height="4.8"/><text class="h" x="272" y="413.6">A2</text>
<g class="s">
<text x="230.5" y="419.3">1  SHAH ALAM - Ahmad Nizar</text>
<text x="230.5" y="425">2  PETALING JAYA - Tengku Roshani Tengku Embong</text>
</g>
<rect class="oh" x="229" y="428" width="86" height="4.8"/><text class="h" x="272" y="431.6">A3</text>
<g class="s">
<text x="230.5" y="436.5">1  GEORGETOWN - Aminuddin Abdul Aziz</text>
<text x="230.5" y="442.2">2  SUNGAI PETANI - Abdul Latip Kahlan</text>
</g>
<rect class="oh" x="229" y="445.6" width="86" height="4.8"/><text class="h" x="272" y="449.2">A4</text>
<g class="s">
<text x="230.5" y="454">1  KAJANG - Mohd Najib Hassan</text>
<text x="230.5" y="459.7">2  KLANG - Mohd Anuar Abd Hamid</text>
</g>
<rect class="oh" x="229" y="462.6" width="86" height="4.8"/><text class="h" x="272" y="466.2">A5</text>
<text class="s" x="230.5" y="471">1  KL UTARA - Kamaruzzaman Mohd Noh</text>
<rect class="oh" x="229" y="474" width="86" height="4.8"/><text class="h" x="272" y="477.6">A6</text>
<text class="s" x="230.5" y="482.8">1  BANDAR - Rusbaini Ismail</text>
</g>

<g id="kategori-b">
<rect class="tb" x="315" y="336" width="88" height="166.5"/>
<rect class="tb" x="403" y="336" width="107" height="47"/>
<rect class="oh" x="315" y="336" width="195" height="5"/><text class="h" x="412.5" y="339.8">KWSP CAWANGAN KATEGORI B</text>
<rect class="oh" x="315" y="341.5" width="88" height="4.8"/><text class="h" x="359" y="345">B1</text>
<rect class="oh" x="403" y="341.5" width="107" height="4.8"/><text class="h" x="456.5" y="345">B4</text>
<text class="s" x="316.5" y="350.5">1  MUAR - Mohd Zaki Jaafar</text>
<rect class="oh" x="315" y="353.2" width="88" height="4.6"/><text class="h" x="359" y="356.7">B2</text>
<text class="s" x="316.5" y="361.8">1  KANGAR - Hj Ahmad Tamrin Hj Abdul Aziz</text>
<rect class="oh" x="315" y="364.8" width="88" height="4.6"/><text class="h" x="359" y="368.3">B3</text>
<g class="s">
<text x="316.5" y="373.5">1  MANJUNG - Mohd Amin Abd Isa</text>
<text x="316.5" y="379.2">2  TAWAU - Maurring Singkang</text>
<text x="316.5" y="384.9">3  BATU PAHAT - Mohd Aliyan Shaibhani</text>
<text x="316.5" y="390.6">4  GOMBAK - Haridah Hj Abd Razak</text>
<text x="316.5" y="396.3">5  KENINGAU - A Rahman Mustaffar</text>
<text x="316.5" y="402">6  TELUK INTAN - Daud Ismail</text>
<text x="316.5" y="407.7">7  TAIPING - Mohd Nasir Abu Bakar</text>
<text x="316.5" y="413.4">8  RAUB - Mohd Anuar Ismail</text>
<text x="316.5" y="419.1">9  TEMERLOH - Kosong</text>
<text x="316.5" y="424.8">10 KEMAMAN - Shahrani Haji Ibrahim</text>
<text x="316.5" y="430.5">11 KLUANG - Kosong</text>
<text x="316.5" y="436.2">12 SEGAMAT - Maimun Othman</text>
<text x="316.5" y="441.9">13 KUALA KRAI - Thay Iyu Ju</text>
<text x="316.5" y="447.6">14 SETIAWAN - Roslan Ibrahim</text>
<text x="316.5" y="453.3">15 PUDU - Tan Siew Lin</text>
<text x="316.5" y="459">16 BANGI - Md Ali Mahmood</text>
<text x="316.5" y="464.7">17 LABUAN - Peter Tanggang @ Haji Darull</text>
<text x="316.5" y="470.4">18 SIBU - Jeeng Ak Nayang</text>
<text x="316.5" y="476.1">19 BINTULU - Unyang Geng Nelilu</text>
<text x="316.5" y="481.8">20 MIRI - Teresa Ak Stephen Unyang</text>
<text x="316.5" y="487.8">21 LAHAD DATU - Ayhren Awang</text>
<text x="316.5" y="493.6">22 SANDAKAN - Bernard Linggan</text>
<text x="316.5" y="499.4">23 PUCHONG - Suhaizam Ismail</text>
</g>
<g class="s">
<text x="404.5" y="350.5">1  BANDAR BARU - Wei Siah Hamid</text>
<text x="404.5" y="356.2">2  KEPONG (Pentadbiran) - Siti Badriah Mohd Rashid</text>
<text x="404.5" y="361.9">3  CHERAS (Pentadbiran) - Kosong</text>
</g>
<rect class="oh" x="403" y="364.8" width="107" height="4.6"/><text class="h" x="456.5" y="368.3">B5</text>
<g class="s">
<text x="404.5" y="373.5">1  KEPONG (Penguatkuasaan) - Mohd Amirl Subrik</text>
<text x="404.5" y="379.2">2  CHERAS (Penguatkuasaan) - Kosong</text>
</g>
</g>

<g id="kategori-c">
<rect class="tb" x="510" y="336" width="99" height="116"/>
<rect class="oh" x="510" y="336" width="99" height="5"/><text class="h" x="559.5" y="339.8">KWSP CAWANGAN KATEGORI C</text>
<rect class="oh" x="510" y="341.5" width="99" height="4.8"/><text class="h" x="559.5" y="345">C1</text>
<text class="s" x="511.5" y="350.5">1  KUDAT - Mahmud Sayadi</text>
<text class="s" x="511.5" y="356.2">2  LANGKAWI - Khairuddin Yahya</text>
<rect class="oh" x="510" y="359.3" width="99" height="4.7"/><text class="h" x="559.5" y="362.8">C2</text>
<g class="s">
<text x="511.5" y="367.8" font-weight="bold">1  JASIN - Rozita Daud</text>
<text x="511.5" y="373.5">2  ALOR GAJAH - Ridzuan Othman</text>
<text x="511.5" y="379.2">3  DUNGUN - Maizarah Mohamad</text>
<text x="511.5" y="384.9">4  BESUT - Wan Rokiah Abi Wan Ismail</text>
<text x="511.5" y="390.6">5  ARAU - Sharul Nizam Hamidas</text>
<text x="511.5" y="396.3">6  NIBONG TEBAL - Mohd Sobri Mahan</text>
<text x="511.5" y="402">7  JERANTUT - Nazeruddin Mohamad</text>
<text x="511.5" y="407.7">8  BEAUFORT - Hilda George</text>
<text x="511.5" y="413.4">9  SARIKEI - Jaeni Jamil</text>
<text x="511.5" y="419.1">10 LIMBANG - Zalinah Tanud</text>
<text x="511.5" y="424.8">11 MERSING - Fauziah Hashim</text>
<text x="511.5" y="430.5">12 GUA MUSANG - Rohana Che Abdullah</text>
<text x="511.5" y="436.2">13 KUALA SELANGOR - Noor Anjan Makmud</text>
<text x="511.5" y="441.9">14 SRI AMAN - Mohamad Wakhi Ala</text>
<text x="511.5" y="447.6">15 KUALA KANGSAR - Mohammad Ruzaini Juani</text>
</g>
</g>

<g id="nota" class="f">
<text x="407" y="477">Nota : Pengurus Cawangan melapor kepada TKPE (Operasi) dan wajib melapor kepada bagi pentadbiran keseluruhan KWSP Cawangan</text>
<text x="407" y="483.5">dan TKPE Bhg. Kewangan &amp; Khidmat Pelanggan - Ketua Jabatan Pengurusan Cawangan bagi tugas-tugas berkaitan.</text>
</g>
</svg>
